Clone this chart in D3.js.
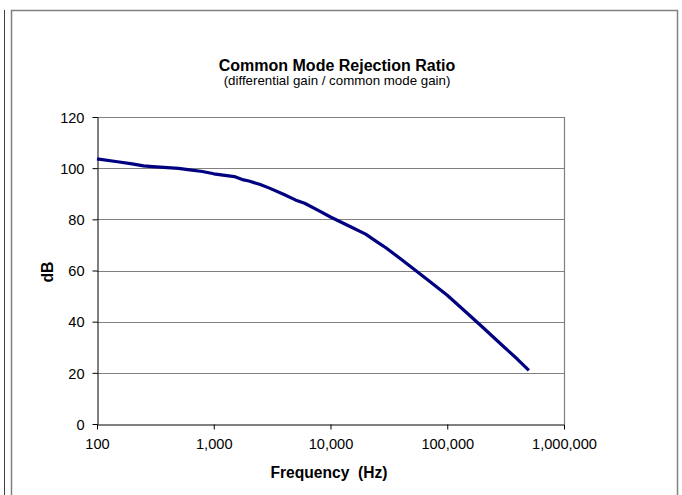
<!DOCTYPE html>
<html>
<head>
<meta charset="utf-8">
<script src="https://cdn.jsdelivr.net/npm/d3@7"></script>
<style>
    body { margin: 0; background: #fff; }
    text { font-family: "Liberation Sans", Arial, sans-serif; fill: #000; }
</style>
</head>
<body>
<div id="chart"></div>
<script>
// CMRR curve
const freqHz = [100, 150, 200, 250, 300, 400, 500, 600, 800, 1000, 1200, 1500, 1800, 2000,
    2500, 3000, 4000, 5000, 6000, 8000, 10000, 15000, 20000, 25000, 30000, 40000, 50000,
    70000, 100000, 150000, 200000, 300000, 400000, 500000];
const gainDb = [103.6, 102.5, 101.7, 100.9, 100.6, 100.2, 99.9, 99.4, 98.7, 97.8, 97.3, 96.7, 95.4, 95.0,
    93.6, 92.2, 89.7, 87.6, 86.3, 83.3, 80.9, 77.0, 74.2, 71.2, 68.8, 64.5, 61.1,
    55.9, 50.3, 43.1, 37.9, 30.5, 25.3, 21.0];
const xTicks = [100, 1000, 10000, 100000, 1000000];
const yTicks = [0, 20, 40, 60, 80, 100, 120];

function drawChart() {
    const width = 682;
    const height = 495;
    const plot = { left: 97, top: 117, right: 564, bottom: 424 };

    const svg = d3.select("#chart")
        .append("svg")
        .attr("width", width)
        .attr("height", height);

    // frame lines around the chart object
    svg.append("line")
        .attr("x1", 4.5).attr("x2", 4.5).attr("y1", 10).attr("y2", height)
        .attr("stroke", "#404040");
    svg.append("path")
        .attr("d", `M11.5,${height} V10.5 H677.5 V${height}`)
        .attr("fill", "none")
        .attr("stroke", "#808080")
        .attr("stroke-width", 1.5);

    const x = d3.scaleLog()
        .domain([100, 1000000])
        .range([plot.left, plot.right]);
    const y = d3.scaleLinear()
        .domain([0, 120])
        .range([plot.bottom, plot.top]);

    // gridlines
    svg.append("g")
        .selectAll("line")
        .data(yTicks.filter(d => d > 0))
        .join("line")
        .attr("x1", plot.left).attr("x2", plot.right)
        .attr("y1", d => Math.round(y(d)) + 0.5).attr("y2", d => Math.round(y(d)) + 0.5)
        .attr("stroke", "#808080")
        .attr("stroke-width", 1.2);
    svg.append("line")
        .attr("x1", plot.right + 0.5).attr("x2", plot.right + 0.5)
        .attr("y1", plot.top).attr("y2", plot.bottom)
        .attr("stroke", "#808080")
        .attr("stroke-width", 1.2);

    // y axis
    const yAxis = svg.append("g")
        .attr("transform", `translate(${plot.left + 0.5},0)`)
        .call(d3.axisLeft(y).tickValues(yTicks).tickSize(5).tickPadding(8).tickSizeOuter(0));
    yAxis.select(".domain").attr("stroke", "#000");
    yAxis.selectAll("text").style("font-size", "14.6px").attr("dy", "0.36em");

    // x axis
    const xAxis = svg.append("g")
        .attr("transform", `translate(0,${plot.bottom + 0.5})`)
        .call(d3.axisBottom(x).tickValues(xTicks).tickFormat(d3.format(",")).tickSize(5).tickPadding(9).tickSizeOuter(0));
    xAxis.select(".domain").attr("stroke", "#000");
    xAxis.selectAll("text").style("font-size", "14.6px");

    // the curve
    const pts = freqHz.map((f, i) => [f, gainDb[i]]);
    svg.append("path")
        .datum(pts)
        .attr("fill", "none")
        .attr("stroke", "#000080")
        .attr("stroke-width", 3.2)
        .attr("stroke-linejoin", "round")
        .attr("d", d3.line().x(d => x(d[0])).y(d => y(d[1])));

    // titles
    svg.append("text")
        .attr("x", 337).attr("y", 71)
        .attr("text-anchor", "middle")
        .style("font-size", "16px").style("font-weight", "bold")
        .text("Common Mode Rejection Ratio");
    svg.append("text")
        .attr("x", 337).attr("y", 85)
        .attr("text-anchor", "middle")
        .style("font-size", "13.3px")
        .text("(differential gain / common mode gain)");
    svg.append("text")
        .attr("x", 329).attr("y", 478)
        .attr("text-anchor", "middle")
        .style("font-size", "15.6px").style("font-weight", "bold")
        .style("white-space", "pre")
        .text("Frequency  (Hz)");
    svg.append("text")
        .attr("transform", "translate(53,272) rotate(-90)")
        .attr("text-anchor", "middle")
        .style("font-size", "15.8px").style("font-weight", "bold")
        .text("dB");
}

drawChart();
</script>
</body>
</html>
